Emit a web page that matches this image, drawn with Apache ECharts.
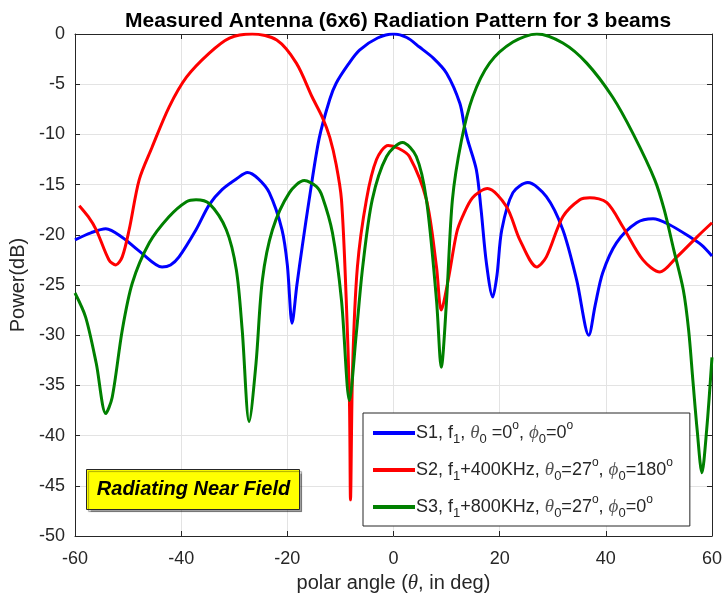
<!DOCTYPE html>
<html>
<head>
<meta charset="utf-8">
<script src="https://cdn.jsdelivr.net/npm/echarts@6/dist/echarts.min.js"></script>
<style>html,body{margin:0;padding:0;background:#fff;}#chart{width:725px;height:599px;}</style>
</head>
<body>
<div id="chart"></div>
<script>
// ---- data ----
const xTicks = [-60, -40, -20, 0, 20, 40, 60];
const yTicks = [-50, -45, -40, -35, -30, -25, -20, -15, -10, -5, 0];

const s1Theta = [-60, -57, -54.2, -51, -47.5, -43.6, -42, -40.4, -37.2, -34.7, -32.3, -29.5, -27.5, -25.5, -23.4, -21, -20, -19.1, -18.2, -17.2, -15.8, -14, -12, -10.8, -8.5, -6.4, -3, 0, 2.5, 4.9, 7.5, 10, 12.5, 13.4, 14, 15.6, 16.5, 17.5, 18.7, 19.5, 20.4, 22.5, 25.3, 28.8, 31.9, 34.5, 36.8, 38, 39.4, 42, 45.8, 48.9, 52, 55.8, 58, 60];
const s1Power = [-20.5, -19.8, -19.4, -20.3, -21.8, -23.2, -23.0, -22.2, -19.5, -17.0, -15.5, -14.4, -13.8, -14.4, -15.8, -19.5, -23, -28.8, -25, -21.2, -16.2, -10.4, -6.5, -4.9, -3.0, -1.6, -0.4, 0, -0.35, -1.3, -2.4, -3.9, -6.9, -9.3, -10.6, -13.5, -17.5, -22.8, -26.2, -24, -19.5, -15.8, -14.8, -16.2, -19.5, -24.5, -30, -27, -23.8, -20.8, -18.8, -18.4, -19, -20.2, -21, -22.1];

const s2Theta = [-59.2, -57.5, -56, -53.6, -52.3, -51.1, -49.8, -47.9, -45.5, -42.3, -39, -34.7, -30.9, -26.6, -22, -18.3, -15.3, -13.4, -12, -10.8, -9.8, -8.9, -8.3, -8.1, -7.7, -6.8, -5.1, -3.2, -1, 1, 3, 6.2, 8.1, 9, 10.3, 11.9, 13, 14.9, 17.7, 21.3, 23.8, 27, 28.8, 31.9, 35.1, 37, 40.2, 43.2, 47, 50.2, 53.4, 57.2, 60];
const s2Power = [-17.1, -18.2, -19.5, -22.5, -23, -22.2, -19.5, -14.5, -11.3, -7.3, -4.3, -1.9, -0.4, 0, -0.6, -2.9, -6.3, -8.3, -10.3, -13, -16.5, -26.5, -36.5, -46.4, -33.2, -23.2, -16.5, -12.5, -11.1, -11.4, -12.2, -16.5, -23.2, -27.5, -24.5, -19.8, -18.2, -16.3, -15.4, -17.2, -20.5, -23.2, -22.2, -18.2, -16.5, -16.3, -16.8, -19.2, -22.5, -23.7, -22.2, -20.2, -18.8];

const s3Theta = [-60, -58, -56, -54.2, -53, -51.1, -49.2, -46, -42.3, -39, -37.2, -34.7, -31.5, -29.6, -28.5, -27.2, -25.9, -24.7, -22.8, -19.6, -16.8, -14.5, -13.4, -11.5, -9.8, -8.3, -7, -5.8, -4, -1.3, 1.7, 4.3, 6.2, 8.1, 9, 10, 11.1, 12.8, 14.9, 18.1, 22.5, 27, 31.9, 36.4, 41.3, 45.2, 49.2, 51, 52.8, 54.6, 55.6, 56.4, 57.2, 58.1, 59, 60];
const s3Power = [-25.8, -28.2, -32.8, -37.8, -36.2, -29.5, -24.8, -20.8, -18.2, -16.7, -16.5, -16.9, -19.5, -23.5, -29.5, -38.6, -32.8, -24.5, -19.5, -15.8, -14.6, -15.2, -16.2, -19.8, -26.5, -36.5, -29.8, -23.2, -16.5, -12.2, -10.8, -12.2, -16.5, -26.5, -33.2, -26.5, -16.5, -10.6, -6.3, -2.9, -0.8, 0, -0.9, -2.9, -6.3, -10.0, -14.5, -17.5, -21.5, -25.5, -29.5, -34.5, -39.4, -43.7, -39.4, -32.2];

const seriesNames = ['S1', 'S2', 'S3'];
const legendLabels = {
  S1: 'S1, f{sub|1}, {it|θ}{sub|0} =0{sup|o}, {it|ϕ}{sub|0}=0{sup|o}',
  S2: 'S2, f{sub|1}+400KHz, {it|θ}{sub|0}=27{sup|o}, {it|ϕ}{sub|0}=180{sup|o}',
  S3: 'S3, f{sub|1}+800KHz, {it|θ}{sub|0}=27{sup|o}, {it|ϕ}{sub|0}=0{sup|o}'
};
const titleText = 'Measured Antenna (6x6) Radiation Pattern for 3 beams';
const xName = 'polar angle ({it|θ}, in deg)';
const yName = 'Power(dB)';
const noteText = 'Radiating Near Field';

function pairs(xs, ys) { return xs.map((x, i) => [x, ys[i]]); }

const FONT = 'Liberation Sans, Arial, Helvetica, sans-serif';
const AX = '#262626';

const chart = echarts.init(document.getElementById('chart'), null, {renderer: 'canvas'});

const lineCommon = {
  type: 'line', showSymbol: false, symbol: 'none', smooth: 0.3,
  xAxisIndex: 0, yAxisIndex: 0, z: 2
};

const option = {
  animation: false,
  backgroundColor: '#ffffff',
  title: {
    text: titleText, left: 120, top: 6,
    textStyle: {fontFamily: FONT, fontSize: 21, fontWeight: 'bold', color: '#000'}
  },
  grid: {left: 75, right: 13, top: 34, bottom: 63, containLabel: false},
  xAxis: [{
    type: 'value', min: -60, max: 60, interval: 20, position: 'bottom',
    name: xName, nameLocation: 'middle', nameGap: 36,
    nameTextStyle: {fontFamily: FONT, fontSize: 20, color: AX,
      rich: {it: {fontFamily: 'Liberation Serif, serif', fontStyle: 'italic', fontSize: 21, color: AX}}},
    axisLine: {show: true, onZero: false, lineStyle: {color: AX, width: 1}},
    axisTick: {show: true, inside: true, length: 5, lineStyle: {color: AX}},
    axisLabel: {fontFamily: FONT, fontSize: 18, color: AX, margin: 14,
      formatter: v => xTicks.includes(v) ? String(v) : ''},
    splitLine: {show: true, lineStyle: {color: '#e3e3e3', width: 1}}
  }, {
    type: 'value', min: -60, max: 60, interval: 20, position: 'top',
    axisLine: {show: true, onZero: false, lineStyle: {color: AX, width: 1}},
    axisTick: {show: true, inside: true, length: 5, lineStyle: {color: AX}},
    axisLabel: {show: false}, splitLine: {show: false}
  }],
  yAxis: [{
    type: 'value', min: -50, max: 0, interval: 5, position: 'left',
    name: yName, nameLocation: 'middle', nameGap: 37, nameRotate: 90,
    nameTextStyle: {fontFamily: FONT, fontSize: 20, color: AX},
    axisLine: {show: true, onZero: false, lineStyle: {color: AX, width: 1}},
    axisTick: {show: true, inside: true, length: 5, lineStyle: {color: AX}},
    axisLabel: {fontFamily: FONT, fontSize: 18, color: AX, margin: 10,
      formatter: v => yTicks.includes(v) ? String(v) : ''},
    splitLine: {show: true, lineStyle: {color: '#e3e3e3', width: 1}}
  }, {
    type: 'value', min: -50, max: 0, interval: 5, position: 'right',
    axisLine: {show: true, onZero: false, lineStyle: {color: AX, width: 1}},
    axisTick: {show: true, inside: true, length: 5, lineStyle: {color: AX}},
    axisLabel: {show: false}, splitLine: {show: false}
  }],
  legend: {
    data: seriesNames, orient: 'vertical', left: 363, top: 413,
    backgroundColor: '#ffffff', borderColor: AX, borderWidth: 1,
    padding: [7, 17, 6, 10], itemGap: 11, itemWidth: 42, itemHeight: 4, icon: 'rect',
    formatter: name => legendLabels[name],
    textStyle: {
      fontFamily: FONT, fontSize: 18, color: AX, lineHeight: 26, padding: [0, 0, 0, -4],
      rich: {
        sub: {fontFamily: FONT, fontSize: 13, color: AX, lineHeight: 13, verticalAlign: 'bottom'},
        sup: {fontFamily: FONT, fontSize: 12, color: AX, lineHeight: 13, verticalAlign: 'top'},
        it: {fontFamily: 'Liberation Serif, serif', fontStyle: 'italic', fontSize: 19, color: '#555', lineHeight: 26}
      }
    }
  },
  graphic: [{
    type: 'group', left: 86, top: 469, z: 100,
    children: [{
      type: 'rect', z: 100, shape: {x: 0, y: 0, width: 213, height: 40},
      style: {fill: '#ffff00', stroke: '#262626', lineWidth: 1,
        shadowColor: 'rgba(0,0,0,0.35)', shadowOffsetX: 2, shadowOffsetY: 2, shadowBlur: 1}
    }, {
      type: 'text', z: 101, x: 107, y: 20,
      style: {text: noteText, fill: '#000', font: 'italic bold 20px ' + FONT,
        align: 'center', verticalAlign: 'middle'}
    }]
  }],
  series: [
    Object.assign({}, lineCommon, {name: 'S1', data: pairs(s1Theta, s1Power),
      itemStyle: {color: '#0000ff'}, lineStyle: {color: '#0000ff', width: 3}}),
    Object.assign({}, lineCommon, {name: 'S2', data: pairs(s2Theta, s2Power),
      itemStyle: {color: '#ff0000'}, lineStyle: {color: '#ff0000', width: 3}}),
    Object.assign({}, lineCommon, {name: 'S3', data: pairs(s3Theta, s3Power),
      itemStyle: {color: '#008000'}, lineStyle: {color: '#008000', width: 3}})
  ]
};
chart.setOption(option);
</script>
</body>
</html>
